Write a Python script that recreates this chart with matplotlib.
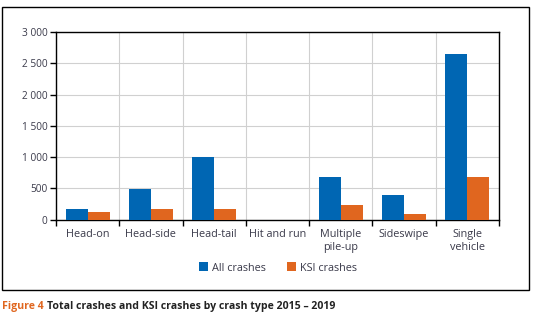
import matplotlib
matplotlib.use("Agg")
import matplotlib.pyplot as plt
from matplotlib.patches import Rectangle
import numpy as np

categories = ["Head-on", "Head-side", "Head-tail", "Hit and run", "Multiple\npile-up", "Sideswipe", "Single\nvehicle"]
all_crashes = [170, 490, 1000, 0, 680, 390, 2650]
ksi_crashes = [120, 170, 170, 0, 230, 90, 690]
yticks = [0, 500, 1000, 1500, 2000, 2500, 3000]
ytick_labels = ["0", "500", "1 000", "1 500", "2 000", "2 500", "3 000"]

BLUE = "#0066b3"
ORANGE = "#e0661f"
TXT = "#3a3a4a"

plt.rcParams['font.family'] = ['Open Sans', 'DejaVu Sans']

W, H = 534, 321
fig = plt.figure(figsize=(W/100, H/100), dpi=100)

# outer frame
fig.add_artist(Rectangle((1.5/W, 1 - 290/H), 527/W, 283/H, transform=fig.transFigure,
                         fill=False, edgecolor="black", linewidth=1.0))

ax = fig.add_axes([56/W, 1 - 219.7/H, 443/W, 187.7/H])
x = np.arange(len(categories))
bw = 0.347
ax.bar(x - bw/2, all_crashes, bw, color=BLUE, label="All crashes", zorder=3)
ax.bar(x + bw/2, ksi_crashes, bw, color=ORANGE, label="KSI crashes", zorder=3)

ax.set_xlim(-0.5, len(categories) - 0.5)
ax.set_ylim(0, 3000)
ax.set_yticks(yticks)
ax.set_yticklabels(ytick_labels, fontsize=7.3, color=TXT)
ax.set_xticks(x)
ax.set_xticklabels(categories, fontsize=7.8, color=TXT, linespacing=1.2)
ax.tick_params(axis='x', length=0, pad=7)
ax.set_xticks(np.arange(-0.5, len(categories)), minor=True)
ax.tick_params(axis='x', which='minor', length=4, width=1, color='black')
ax.tick_params(axis='y', length=4, width=1, color='black', pad=2)
ax.grid(True, axis='y', color='#d0d0d0', linewidth=0.8, zorder=0)
ax.grid(True, axis='x', which='minor', color='#d0d0d0', linewidth=0.8, zorder=0)
for s in ax.spines.values():
    s.set_color('black')
    s.set_linewidth(1.0)

leg = fig.legend(loc='center', bbox_to_anchor=(278/W, 1 - 268/H), ncol=2, frameon=False,
                 fontsize=7.8, handlelength=0.85, handleheight=0.85, handletextpad=0.35,
                 columnspacing=1.9)
for t in leg.get_texts():
    t.set_color(TXT)

fig.text(2/W, 1 - 306/H, "Figure 4", color=ORANGE, fontsize=7.6, fontweight='bold',
         va='center', ha='left')
fig.text(47/W, 1 - 306/H, "Total crashes and KSI crashes by crash type 2015 \u2013 2019",
         color="#222222", fontsize=7.6, fontweight='bold', va='center', ha='left')

fig.savefig("out.png", dpi=100)
